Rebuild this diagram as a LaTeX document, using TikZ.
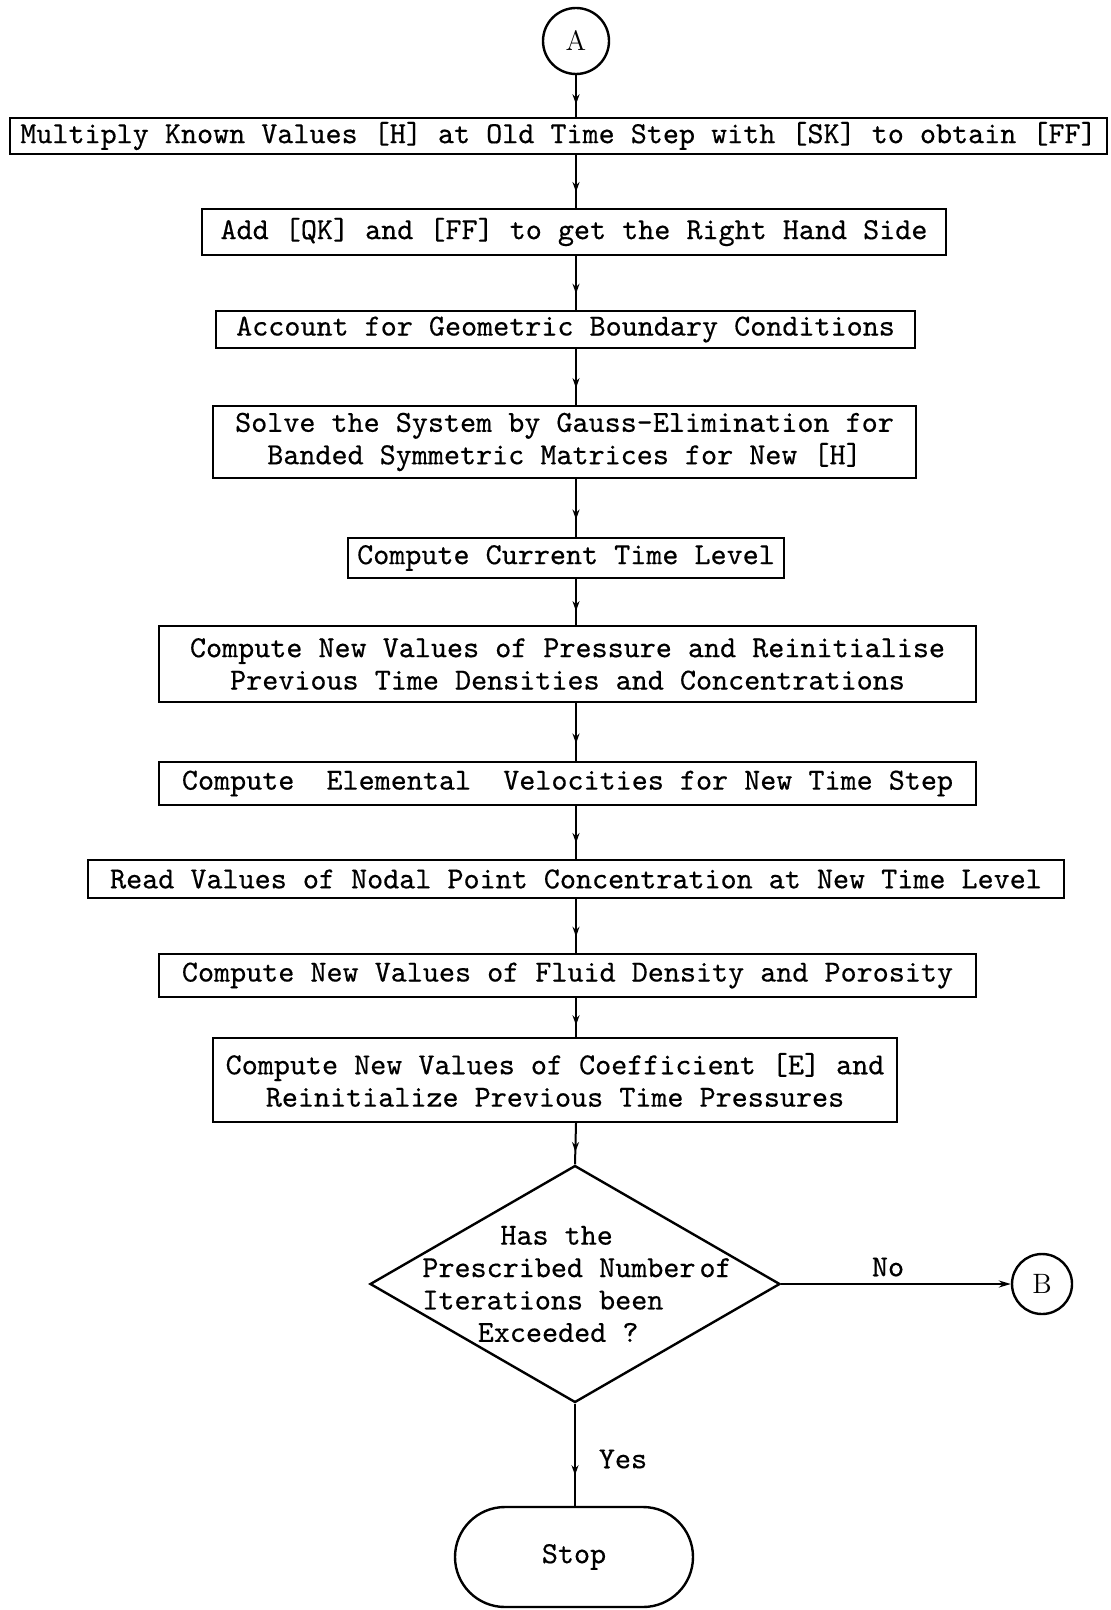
\documentclass[tikz,border=0pt]{standalone}
\usepackage{fontspec}
\newfontfamily\typefont{lmmono10-regular.otf}[FakeBold=0.4]
\usetikzlibrary{arrows.meta,decorations.markings,shapes.geometric}
\begin{document}
\begin{tikzpicture}[x=0.5pt,y=-0.5pt,
  every node/.style={font=\typefont\fontsize{15.3}{16.2}\selectfont},
  stepbox/.style={draw,line width=1.2pt,inner sep=0pt,align=center},
  conn/.style={draw,line width=1pt},
  flow/.style={conn,postaction={decorate},decoration={markings,
      mark=at position 0.7 with {\arrow{Stealth[length=5pt,width=3.5pt]}}}},
  connector/.style={draw,circle,line width=1.2pt,inner sep=0pt,
      font=\rmfamily\fontsize{14}{16}\selectfont}]
\useasboundingbox (0,0) rectangle (1110,1610);

% entry connector
\node[connector,minimum size=33pt] (A) at (576,41) {A};

% processing steps
\node[stepbox,minimum width=548.5pt,minimum height=18pt] (b1) at (558.5,136)
  {Multiply Known Values [H] at Old Time Step with [SK] to obtain [FF]};
\node[stepbox,minimum width=372pt,minimum height=23pt] (b2) at (574,232)
  {Add [QK] and [FF] to get the Right Hand Side};
\node[stepbox,minimum width=349.5pt,minimum height=18.5pt] (b3) at (565.5,329.5)
  {Account for Geometric Boundary Conditions};
\node[stepbox,minimum width=351.5pt,minimum height=36pt] (b4) at (564.5,442)
  {Solve the System by Gauss-Elimination for\\Banded Symmetric Matrices for New [H]};
\node[stepbox,minimum width=218pt,minimum height=20pt] (b5) at (566,558)
  {Compute Current Time Level};
\node[stepbox,minimum width=408.5pt,minimum height=38pt] (b6) at (567.5,664)
  {Compute New Values of Pressure and Reinitialise\\Previous Time Densities and Concentrations};
\node[stepbox,minimum width=408.5pt,minimum height=21.5pt] (b7) at (567.5,783.5)
  {Compute\ \ Elemental\ \ Velocities for New Time Step};
\node[stepbox,minimum width=488pt,minimum height=19pt] (b8) at (576,879)
  {Read Values of Nodal Point Concentration at New Time Level};
\node[stepbox,minimum width=408.5pt,minimum height=21.5pt] (b9) at (567.5,975.5)
  {Compute New Values of Fluid Density and Porosity};
\node[stepbox,minimum width=342pt,minimum height=42pt] (b10) at (555,1080)
  {Compute New Values of Coefficient [E] and\\Reinitialize Previous Time Pressures};

% decision
\node[draw,diamond,line width=1.2pt,inner sep=0pt,minimum width=205pt,
  minimum height=118.5pt] (dia) at (575,1284) {};
\node[anchor=west,align=left,inner sep=0pt] (dtext) at (422,1284)
  {\hspace*{39pt}Has the\\Prescribed Number\hspace{2pt}of\\Iterations been\\\hspace*{27.7pt}Exceeded ?};

\node[connector,minimum size=30pt] (B) at (1042,1284) {B};
\node[draw,rounded corners=25pt,line width=1.2pt,minimum width=119pt,
  minimum height=50pt,inner sep=0pt] (stop) at (574,1557) {Stop};

% connectors down the main column
\path[flow] (A.south) -- (b1.north -| A);
\path[flow] (b1.south -| A) -- (b2.north -| A);
\path[flow] (b2.south -| A) -- (b3.north -| A);
\path[flow] (b3.south -| A) -- (b4.north -| A);
\path[flow] (b4.south -| A) -- (b5.north -| A);
\path[flow] (b5.south -| A) -- (b6.north -| A);
\path[flow] (b6.south -| A) -- (b7.north -| A);
\path[flow] (b7.south -| A) -- (b8.north -| A);
\path[flow] (b8.south -| A) -- (b9.north -| A);
\path[flow] (b9.south -| A) -- (b10.north -| A);
\path[flow] (b10.south -| A) -- (dia.north);
\path[flow] (dia.south) -- (stop.north -| dia);

% exit to B
\draw[line width=1pt,-{Stealth[length=6pt,width=3.5pt]}] (dia.east) -- (B.west);
\node (no) at (888,1267) {No};
\node (yes) at (623,1459) {Yes};
\end{tikzpicture}
\end{document}
